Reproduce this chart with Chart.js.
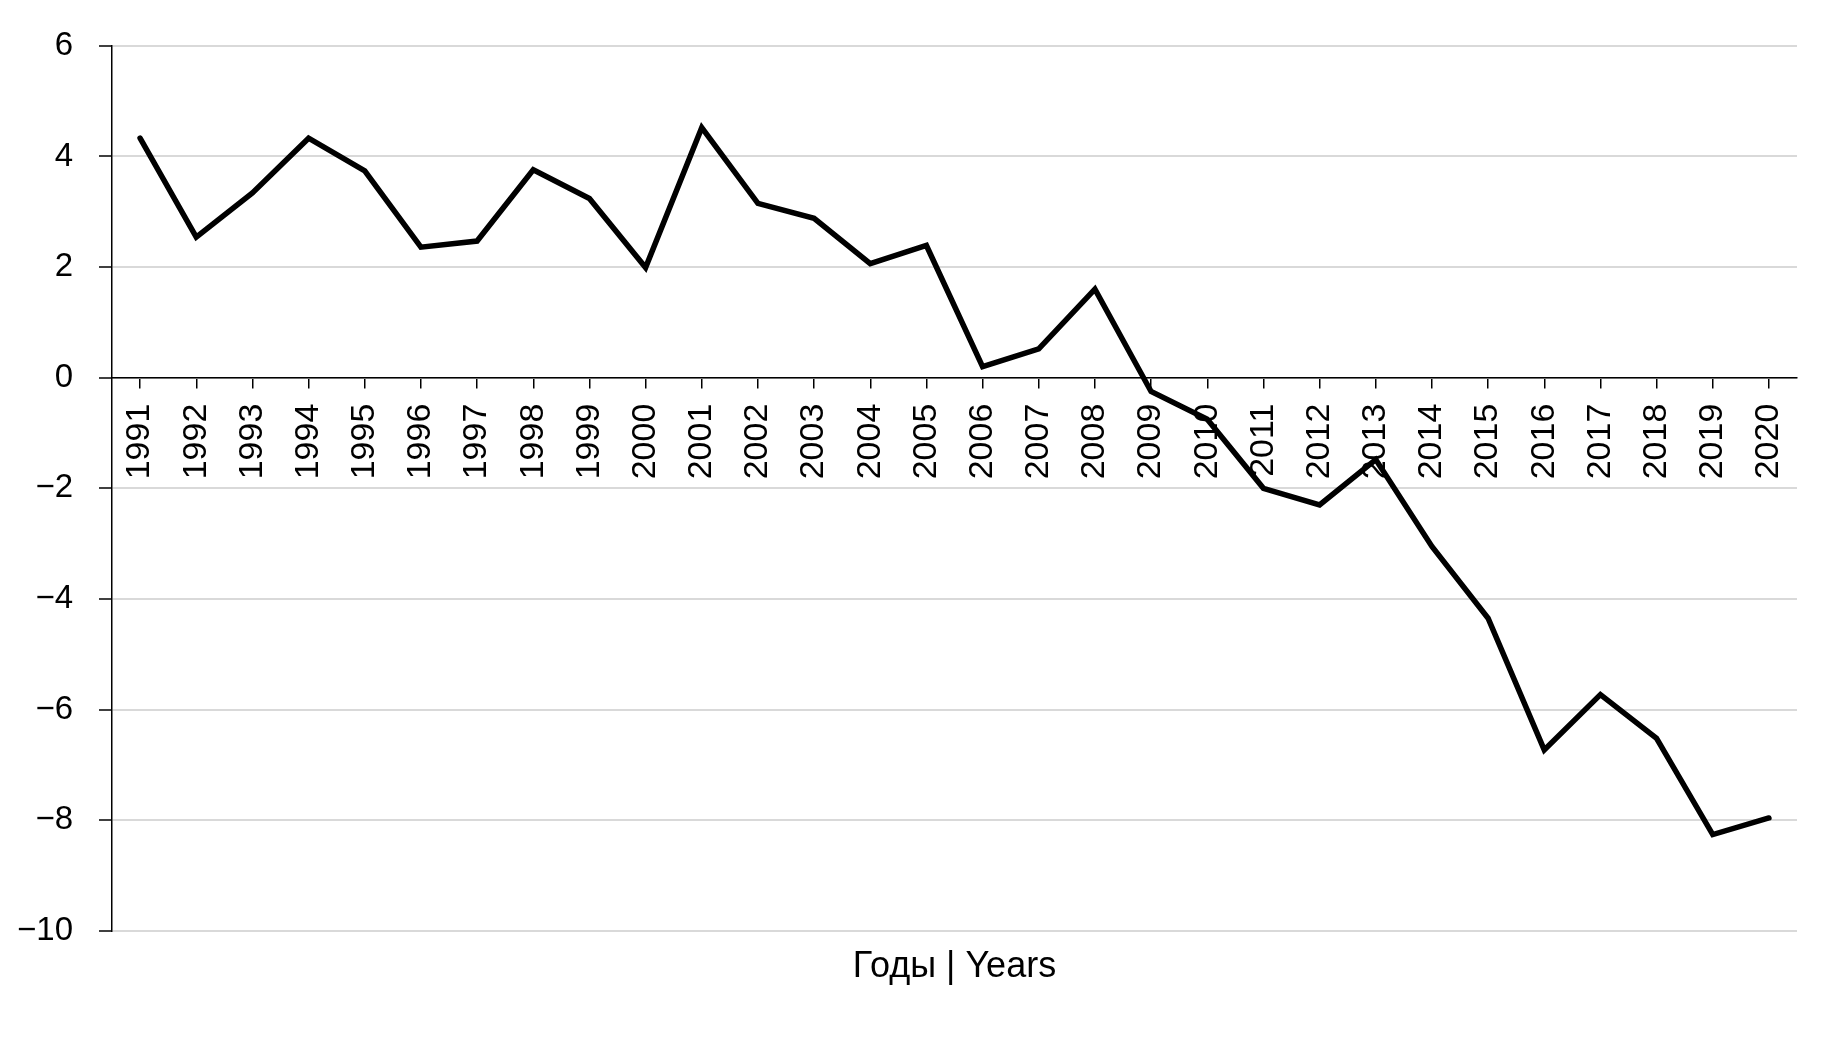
<!DOCTYPE html>
<html>
<head>
<meta charset="utf-8">
<script src="https://cdn.jsdelivr.net/npm/chart.js@4.4.1/dist/chart.umd.min.js"></script>
<style>
  html, body { margin: 0; padding: 0; background: #ffffff; }
  #wrap { width: 1844px; height: 1039px; position: relative; }
</style>
</head>
<body>
<div id="wrap"><canvas id="c" width="1844" height="1039"></canvas></div>
<script>
const years = ["1991","1992","1993","1994","1995","1996","1997","1998","1999","2000",
               "2001","2002","2003","2004","2005","2006","2007","2008","2009","2010",
               "2011","2012","2013","2014","2015","2016","2017","2018","2019","2020"];
const values = [4.33, 2.54, 3.34, 4.33, 3.74, 2.36, 2.47, 3.76, 3.24, 1.99,
                4.52, 3.15, 2.88, 2.06, 2.39, 0.20, 0.52, 1.60, -0.25, -0.75,
                -2.00, -2.30, -1.48, -3.05, -4.35, -6.73, -5.73, -6.52, -8.26, -7.96];
const yMin = -10, yMax = 6, yStep = 2;
const xTitle = "Годы | Years";

const FONT = "'Liberation Sans Narrow', 'Arial Narrow', 'Liberation Sans', Arial, sans-serif";

new Chart(document.getElementById('c'), {
  type: 'line',
  data: {
    labels: years,
    datasets: [{
      data: values,
      borderColor: '#000000',
      borderWidth: 5.5,
      pointRadius: 0,
      pointHoverRadius: 0,
      tension: 0,
      borderJoinStyle: 'miter',
      borderCapStyle: 'round',
      fill: false
    }]
  },
  options: {
    responsive: false,
    animation: false,
    events: [],
    layout: { padding: { left: 0, right: 47, top: 45, bottom: 50 } },
    plugins: {
      legend: { display: false },
      tooltip: { enabled: false },
      title: {
        display: true,
        position: 'bottom',
        fullSize: false,
        text: xTitle,
        color: '#000000',
        font: { family: FONT, size: 36, weight: 'normal', lineHeight: 1.2 },
        padding: { top: 15, bottom: 0 }
      }
    },
    scales: {
      x: {
        type: 'category',
        position: { y: 0 },
        offset: true,
        grid: {
          display: true,
          drawOnChartArea: false,
          drawTicks: true,
          tickLength: 10,
          tickColor: '#000000',
          lineWidth: 1.5,
          offset: false
        },
        border: { display: true, color: '#000000', width: 1.5 },
        ticks: {
          autoSkip: false,
          minRotation: 90,
          maxRotation: 90,
          padding: 16,
          color: '#000000',
          font: { family: FONT, size: 34 }
        }
      },
      y: {
        type: 'linear',
        position: 'left',
        min: yMin,
        max: yMax,
        afterFit: (scale) => { scale.width = 112; },
        grid: {
          color: '#d9d9d9',
          lineWidth: 2,
          drawTicks: true,
          tickLength: 13,
          tickColor: '#000000',
          tickWidth: 1.5
        },
        border: { display: true, color: '#000000', width: 1.5 },
        ticks: {
          stepSize: yStep,
          padding: 26,
          color: '#000000',
          font: { family: FONT, size: 33 },
          callback: (v) => (v < 0 ? '\u2212' + Math.abs(v) : String(v))
        }
      }
    }
  }
});
</script>
</body>
</html>
